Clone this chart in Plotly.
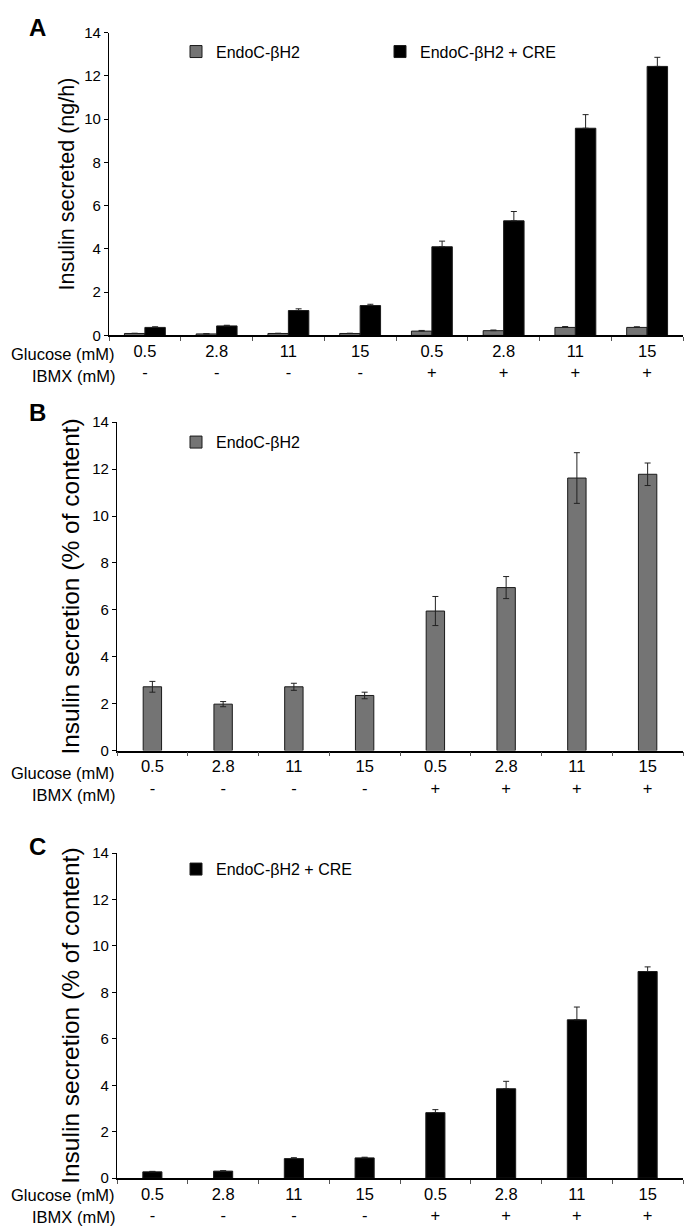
import plotly.graph_objects as go

W, H = 697, 1229

glucose = ["0.5", "2.8", "11", "15", "0.5", "2.8", "11", "15"]
ibmx = ["-", "-", "-", "-", "+", "+", "+", "+"]
cats = ["c1", "c2", "c3", "c4", "c5", "c6", "c7", "c8"]

# Panel A: insulin secreted (ng/h)
a_endoc = [0.09, 0.07, 0.09, 0.09, 0.20, 0.22, 0.37, 0.37]
a_endoc_err = [0.01, 0.01, 0.01, 0.01, 0.03, 0.03, 0.04, 0.03]
a_cre = [0.37, 0.44, 1.15, 1.38, 4.10, 5.30, 9.58, 12.44]
a_cre_err = [0.03, 0.03, 0.08, 0.06, 0.26, 0.43, 0.63, 0.42]

# Panel B: EndoC-bH2 (% of content)
b_endoc = [2.72, 1.98, 2.72, 2.35, 5.95, 6.95, 11.62, 11.78]
b_endoc_err = [0.23, 0.11, 0.15, 0.14, 0.62, 0.47, 1.08, 0.48]

# Panel C: EndoC-bH2 + CRE (% of content)
c_cre = [0.27, 0.30, 0.84, 0.87, 2.82, 3.85, 6.82, 8.90]
c_cre_err = [0.02, 0.02, 0.04, 0.03, 0.13, 0.32, 0.55, 0.20]

GRAY = "#747474"
BLACK = "#000000"
OUT = "#1a1a1a"
FONT = "Liberation Sans, Arial, Helvetica, sans-serif"

ticktext = [f"{g}<br>{i}" for g, i in zip(glucose, ibmx)]

def px_x(p):
    return p / W

def px_y(p):
    return 1 - p / H

fig = go.Figure()

def err(arr, up_only):
    d = dict(type="data", array=arr, color="#222222", thickness=1, width=3, visible=True)
    if up_only:
        d["symmetric"] = False
        d["arrayminus"] = [0] * len(arr)
    return d

fig.add_trace(go.Bar(x=cats, y=a_endoc, name="EndoC-βH2", marker=dict(color=GRAY, line=dict(color=OUT, width=1)),
                     error_y=err(a_endoc_err, True), width=0.285, offset=-0.285,
                     xaxis="x", yaxis="y", legend="legend"))
fig.add_trace(go.Bar(x=cats, y=a_cre, name="EndoC-βH2 + CRE", marker=dict(color=BLACK, line=dict(color=OUT, width=1)),
                     error_y=err(a_cre_err, True), width=0.285, offset=0,
                     xaxis="x", yaxis="y", legend="legend"))
fig.add_trace(go.Bar(x=cats, y=b_endoc, name="EndoC-βH2", marker=dict(color=GRAY, line=dict(color=OUT, width=1)),
                     error_y=err(b_endoc_err, False), width=0.26,
                     xaxis="x2", yaxis="y2", legend="legend2"))
fig.add_trace(go.Bar(x=cats, y=c_cre, name="EndoC-βH2 + CRE", marker=dict(color=BLACK, line=dict(color=OUT, width=1)),
                     error_y=err(c_cre_err, True), width=0.27,
                     xaxis="x3", yaxis="y3", legend="legend3"))

panels = [
    # suffix, x0, x1, y(14), y(0), title, title size, standoff
    ("", 109, 683, 24, 331, "Insulin secreted (ng/h)", 21.5, 3),
    ("2", 117, 683, 419, 752, "Insulin secretion (% of content)", 24.5, 5),
    ("3", 117, 683, 856, 1185.5, "Insulin secretion (% of content)", 24.5, 5),
]

layout = dict(
    width=W, height=H, margin=dict(l=0, r=0, t=0, b=0),
    paper_bgcolor="white", plot_bgcolor="white",
    font=dict(family=FONT, color="black", size=15),
    barmode="overlay", showlegend=True,
)

for suf, x0, x1, yt, yb, title, tsize, stand in panels:
    xa = "xaxis" + suf
    ya = "yaxis" + suf
    layout[xa] = dict(
        domain=[px_x(x0), px_x(x1)], anchor="y" + suf,
        type="category", categoryorder="array", categoryarray=cats,
        tickmode="array", tickvals=cats, ticktext=ticktext,
        tickson="boundaries", ticks="outside", ticklen=4, tickcolor="#555555", tickwidth=1,
        showline=True, linecolor="black", linewidth=1.5,
        tickfont=dict(size=16.5, family=FONT), showgrid=False, zeroline=False,
        range=[-0.5, 7.5], fixedrange=True,
    )
    layout[ya] = dict(
        domain=[px_y(yb), px_y(yt)], anchor="x" + suf,
        range=[0, 14], tickmode="array", tickvals=[0, 2, 4, 6, 8, 10, 12, 14],
        ticks="outside", ticklen=4, tickcolor="black", tickwidth=1,
        showline=True, linecolor="black", linewidth=1.2,
        tickfont=dict(size=15, family=FONT), showgrid=False, zeroline=False,
        title=dict(text=title, font=dict(size=tsize, family=FONT), standoff=stand),
    )

layout["legend"] = dict(x=px_x(176), y=px_y(26), xanchor="left", yanchor="top", orientation="h",
                        entrywidth=159, entrywidthmode="pixels", itemwidth=30,
                        font=dict(size=16, family=FONT), bgcolor="rgba(0,0,0,0)", traceorder="normal")
layout["legend2"] = dict(x=px_x(176), y=px_y(422), xanchor="left", yanchor="top", orientation="h",
                         itemwidth=30, font=dict(size=16, family=FONT), bgcolor="rgba(0,0,0,0)")
layout["legend3"] = dict(x=px_x(176), y=px_y(855), xanchor="left", yanchor="top", orientation="h",
                         itemwidth=30, font=dict(size=16, family=FONT), bgcolor="rgba(0,0,0,0)")

annotations = []
for letter, ly in [("A", 19), ("B", 409), ("C", 849)]:
    annotations.append(dict(text=f"<b>{letter}</b>", x=px_x(37), y=px_y(ly), xref="paper", yref="paper",
                            xanchor="center", yanchor="middle", showarrow=False,
                            font=dict(size=24, family=FONT)))
for gy, iy in [(350, 372), (775, 797), (1203, 1225)]:
    annotations.append(dict(text="Glucose (mM)", x=px_x(117), y=px_y(gy), xref="paper", yref="paper",
                            xanchor="right", yanchor="middle", showarrow=False, font=dict(size=16.5, family=FONT)))
    annotations.append(dict(text="IBMX (mM)", x=px_x(117), y=px_y(iy), xref="paper", yref="paper",
                            xanchor="right", yanchor="middle", showarrow=False, font=dict(size=16.5, family=FONT)))
layout["annotations"] = annotations

fig.update_layout(**layout)
css_js = (
    "var s=document.createElement('style');"
    "s.innerHTML='html,body{margin:0!important;padding:0!important;overflow:hidden!important;}';"
    "document.head.appendChild(s);"
    "document.documentElement.style.margin='0px';document.body.style.margin='0px';"
)
fig.write_html("out.html", config={"displayModeBar": False, "responsive": False}, post_script=css_js)
